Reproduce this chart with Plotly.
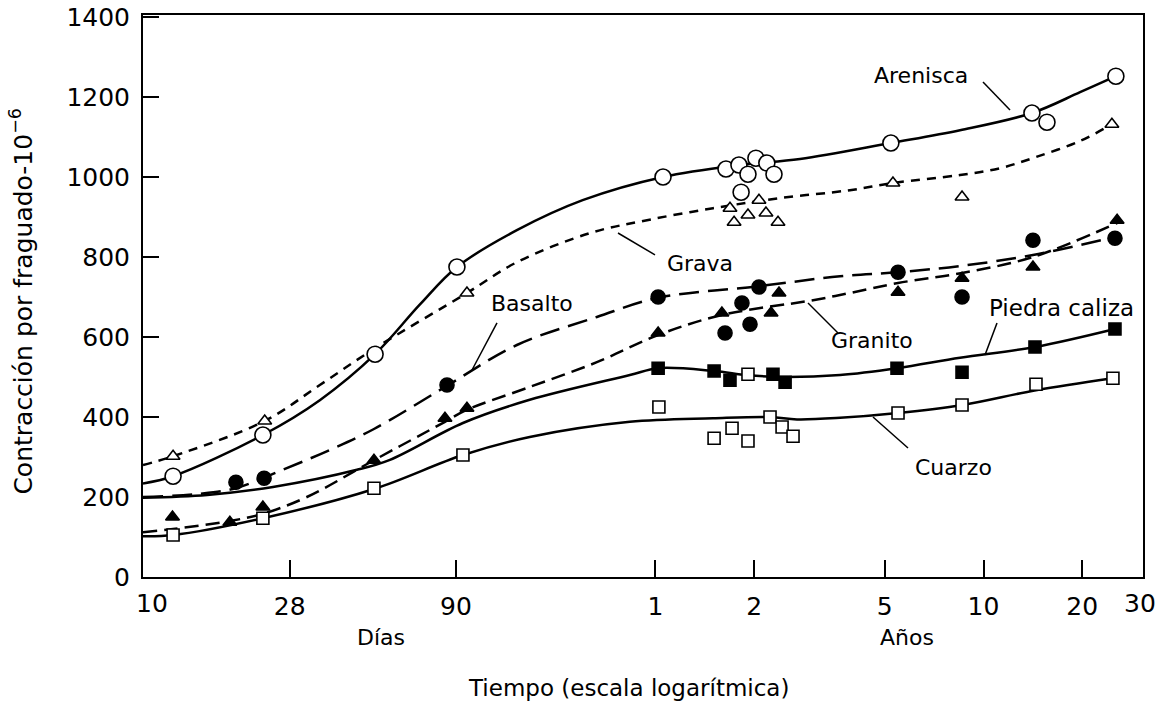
import plotly.graph_objects as go

# ---------------- data (x in days, y in 1e-6 strain) ----------------
# Arenisca (open circles, solid line)
aren_mx = [12.35, 23.2, 51, 90.6, 385, 599, 656, 739, 798, 699, 839, 666, 1906, 5131, 5702, 9250]
aren_my = [252, 355, 557, 775, 1000, 1020, 1030, 1047, 1035, 1007, 1007, 962, 1085, 1160, 1137, 1252]
aren_cx = [10, 12.35, 23.2, 34.6, 51, 70, 90.6, 138, 219, 385, 661, 1007, 1906, 3097, 5131, 7194, 9250]
aren_cy = [234, 252, 355, 442, 557, 682, 775, 867, 942, 1000, 1030, 1045, 1085, 1117, 1160, 1212, 1252]

# Grava (open triangles, short dashes)
grav_mx = [12.35, 23.5, 97.2, 616, 634, 699, 755, 793, 863, 1934, 3141, 8995]
grav_my = [302, 390, 710, 922, 887, 905, 942, 910, 887, 985, 950, 1132]
grav_cx = [10, 12.35, 23.5, 34.6, 51, 97.2, 138, 231, 344, 547, 869, 1430, 1934, 3097, 4102, 5280, 7194, 8995]
grav_cy = [280, 302, 390, 480, 572, 710, 787, 860, 892, 922, 947, 967, 985, 1005, 1022, 1050, 1090, 1132]

# Basalto (filled circles, long dashes)
basa_mx = [19.2, 23.4, 84.5, 372, 595, 670, 709, 755, 2004, 3141, 5168, 9190]
basa_my = [237, 247, 480, 700, 610, 685, 632, 725, 762, 700, 842, 847]
basa_cx = [10, 14.9, 19.2, 24.9, 37.2, 50.6, 84.5, 138, 242, 372, 755, 1334, 2004, 3141, 5168, 9190]
basa_cy = [200, 208, 222, 258, 318, 370, 478, 580, 650, 698, 727, 752, 762, 778, 805, 850]

# Granito (filled triangles, medium dashes)
gran_mx = [12.3, 18.4, 23.2, 50.6, 83.3, 97.2, 372, 582, 822, 869, 2004, 3141, 5168, 9330]
gran_my = [150, 137, 175, 292, 397, 422, 610, 660, 660, 710, 712, 747, 775, 892]
gran_cx = [10, 12.35, 18.4, 23.2, 31.6, 50.6, 83.3, 97.2, 151, 242, 372, 582, 1104, 1430, 2004, 3141, 5168, 9330]
gran_cy = [112, 120, 140, 158, 200, 292, 388, 418, 475, 537, 605, 655, 692, 710, 735, 760, 800, 885]

# Piedra caliza (filled squares, solid line)
pied_mx = [372, 551, 616, 833, 907, 1990, 3141, 5242, 9190]
pied_my = [522, 515, 492, 507, 487, 522, 512, 575, 620]
pied_cx = [10, 15.7, 24.9, 44.9, 56.6, 94.5, 151, 305, 372, 551, 694, 875, 1334, 1990, 3097, 5242, 9190]
pied_cy = [198, 205, 225, 268, 293, 385, 443, 505, 522, 515, 505, 500, 505, 522, 548, 575, 620]

# Cuarzo (open squares, solid line)
cuar_mx = [12.35, 23.2, 50.6, 94.5, 374, 551, 625, 699, 699, 816, 888, 959, 2004, 3141, 5279, 9060]
cuar_my = [105, 147, 222, 305, 425, 347, 372, 507, 340, 400, 375, 352, 410, 430, 482, 497]
cuar_cx = [10, 12.35, 23.2, 50.6, 94.5, 151, 305, 547, 816, 986, 1334, 2004, 3141, 5279, 9060]
cuar_cy = [102, 105, 147, 220, 305, 350, 388, 397, 400, 394, 398, 410, 430, 467, 497]

# axis ticks
y_ticks = [0, 200, 400, 600, 800, 1000, 1200, 1400]
x_tickvals = [28, 90, 365, 730, 1826, 3652, 7305]
x_ticktext = ["28", "90", "1", "2", "5", "10", "20"]

FONT = "DejaVu Sans"
LW = 2.5

fig = go.Figure()

def curve(x, y, dash):
    fig.add_trace(go.Scatter(x=x, y=y, mode="lines",
                             line=dict(color="black", width=LW, dash=dash, shape="spline", smoothing=1.0),
                             hoverinfo="skip", showlegend=False))

curve(aren_cx, aren_cy, "solid")
curve(grav_cx, grav_cy, "9px,7px")
curve(basa_cx, basa_cy, "20px,9px")
curve(gran_cx, gran_cy, "14px,7px")
curve(pied_cx, pied_cy, "solid")
curve(cuar_cx, cuar_cy, "solid")

def markers(x, y, symbol, fill, size):
    fig.add_trace(go.Scatter(x=x, y=y, mode="markers",
                             marker=dict(symbol=symbol, size=size, color=fill, line=dict(color="black", width=1.6)),
                             showlegend=False))

markers(grav_mx, grav_my, "triangle-up", "white", 12)
markers(aren_mx, aren_my, "circle", "white", 16)
markers(basa_mx, basa_my, "circle", "black", 14)
markers(gran_mx, gran_my, "triangle-up", "black", 12)
markers(pied_mx, pied_my, "square", "black", 12)
markers(cuar_mx, cuar_my, "square", "white", 12)

tfont = dict(family=FONT, size=25, color="black")

fig.update_xaxes(type="log", range=[1, 4.0488], tickvals=x_tickvals, ticktext=x_ticktext,
                 ticks="inside", ticklen=17, tickwidth=2, tickcolor="black",
                 showline=True, linecolor="black", linewidth=2, mirror=True, automargin=False,
                 showgrid=False, zeroline=False, tickfont=tfont, ticklabelstandoff=6)
fig.update_yaxes(range=[0, 1405], tickvals=y_ticks, ticks="inside", ticklen=16, tickwidth=2, tickcolor="black",
                 showline=True, linecolor="black", linewidth=2, mirror=True, automargin=False,
                 showgrid=False, zeroline=False, tickfont=tfont, ticklabelstandoff=6)

ann = []
def text(t, x, y, size=22, angle=0, xanchor="center"):
    ann.append(dict(text=t, x=x, y=y, xref="paper", yref="paper", showarrow=False,
                    font=dict(family=FONT, size=size, color="black"), textangle=angle,
                    xanchor=xanchor, yanchor="middle"))

text("10", 0.009, -0.048, 25)
text("30", 0.997, -0.048, 25)
text("Días", 0.238, -0.107, 22)
text("Años", 0.764, -0.107, 22)
text("Tiempo (escala logarítmica)", 0.485, -0.1975, 23)
text("Contracción por fraguado-10<sup>−6</sup>", -0.121, 0.49, 25, -90)
text("Arenisca", 0.778, 0.893)
text("Grava", 0.557, 0.5587)
text("Basalto", 0.389, 0.4875)
text("Granito", 0.729, 0.4217)
text("Piedra caliza", 0.918, 0.4786, 23)
text("Cuarzo", 0.810, 0.194)

pointers = [
    (0.840, 0.8808, 0.867, 0.8310),
    (0.475, 0.6121, 0.512, 0.5730),
    (0.354, 0.4520, 0.329, 0.3683),
    (0.665, 0.4875, 0.695, 0.4342),
    (0.854, 0.4520, 0.842, 0.3950),
    (0.730, 0.2847, 0.765, 0.2295),
]
shapes = [dict(type="line", xref="paper", yref="paper", x0=a, y0=b, x1=c, y1=d,
               line=dict(color="black", width=1.5)) for a, b, c, d in pointers]

fig.update_layout(width=1163, height=702, margin=dict(l=143, r=20, t=15, b=125, autoexpand=False),
                  plot_bgcolor="white", paper_bgcolor="white",
                  annotations=ann, shapes=shapes, showlegend=False)

fig.write_html("out.html", config={"displayModeBar": False},
               post_script="document.body.style.margin='0px';document.body.style.overflow='hidden';")
